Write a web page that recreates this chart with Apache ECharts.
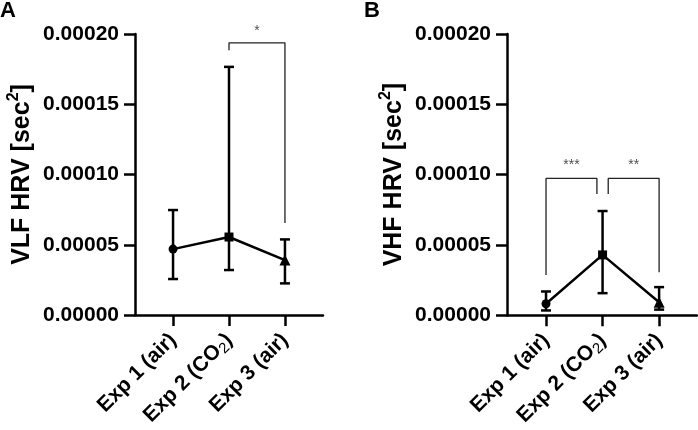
<!DOCTYPE html>
<html>
<head>
<meta charset="utf-8">
<script src="https://cdn.jsdelivr.net/npm/echarts@6/dist/echarts.min.js"></script>
<style>
  html, body { margin: 0; padding: 0; background: #fff; }
  #chart { width: 698px; height: 430px; }
</style>
</head>
<body>
<div id="chart"></div>
<script>
// ===== 数据 =====
const categories = ['Exp 1 (air)', 'Exp 2 (CO2)', 'Exp 3 (air)'];
const xPos = [1, 2, 3];
const markers = ['circle', 'rect', 'triangle'];

// A: VLF HRV (mean, lower / upper error)
const vlfMean = [4.69e-5, 5.55e-5, 3.91e-5];
const vlfLow = [2.56e-5, 3.2e-5, 2.25e-5];
const vlfHigh = [7.47e-5, 17.66e-5, 5.38e-5];

// B: VHF HRV
const vhfMean = [0.82e-5, 4.29e-5, 0.92e-5];
const vhfLow = [0.34e-5, 1.57e-5, 0.4e-5];
const vhfHigh = [1.69e-5, 7.41e-5, 2.0e-5];

// 显著性标记 [x, y]
const vlfBracket = [[2, 18.85e-5], [2, 19.37e-5], [3, 19.37e-5], [3, 6.54e-5]];
const vlfStars = [[2.5, 20.2e-5, '*']];
const vhfBracket1 = [[1, 2.87e-5], [1, 9.73e-5], [1.9, 9.73e-5], [1.9, 8.62e-5]];
const vhfBracket2 = [[2.1, 8.62e-5], [2.1, 9.73e-5], [3, 9.73e-5], [3, 3.06e-5]];
const vhfStars = [[1.45, 10.65e-5, '***'], [2.55, 10.65e-5, '**']];

// ===== 样式 =====
const FONT = 'Liberation Sans';
const INK = '#000';
const LW = 2.5;

const catLabel = (v) => {
  const i = xPos.indexOf(Math.round(v));
  if (i < 0) return '';
  return categories[i].replace('CO2', 'CO{sub|2}');
};

const xAxisOf = (gridIndex, min, max) => ({
  type: 'value',
  gridIndex,
  min,
  max,
  axisLine: { show: true, onZero: false, lineStyle: { color: INK, width: LW } },
  axisTick: { show: true, customValues: xPos, length: 11, lineStyle: { color: INK, width: LW } },
  splitLine: { show: false },
  axisLabel: {
    customValues: xPos,
    rotate: 45,
    margin: 22,
    color: INK,
    fontFamily: FONT,
    fontWeight: 'bold',
    fontSize: 21,
    formatter: catLabel,
    rich: {
      sub: { fontFamily: FONT, fontSize: 15, fontWeight: 'normal', color: INK, padding: [10, 0, 0, 0] },
    },
  },
});

const yAxisOf = (gridIndex, name) => ({
  type: 'value',
  gridIndex,
  min: 0,
  max: 0.0002,
  interval: 0.00005,
  name,
  nameLocation: 'middle',
  nameRotate: 90,
  nameGap: 97,
  nameTextStyle: {
    color: INK,
    fontFamily: FONT,
    fontWeight: 'bold',
    fontSize: 25,
    rich: {
      sup: { fontFamily: FONT, fontWeight: 'bold', fontSize: 16, color: INK, padding: [0, 0, 16, 0] },
    },
  },
  axisLine: { show: true, lineStyle: { color: INK, width: LW } },
  axisTick: { show: true, length: 11, lineStyle: { color: INK, width: LW } },
  splitLine: { show: false },
  axisLabel: {
    margin: 16,
    color: INK,
    fontFamily: FONT,
    fontWeight: 'bold',
    fontSize: 21,
    formatter: (v) => v.toFixed(5),
  },
});

const errRender = (params, api) => {
  const x = api.value(0);
  const pLo = api.coord([x, api.value(1)]);
  const pHi = api.coord([x, api.value(2)]);
  const w = 5;
  const st = { stroke: INK, lineWidth: LW };
  return {
    type: 'group',
    children: [
      { type: 'line', shape: { x1: pLo[0], y1: pLo[1], x2: pHi[0], y2: pHi[1] }, style: st },
      { type: 'line', shape: { x1: pLo[0] - w, y1: pLo[1], x2: pLo[0] + w, y2: pLo[1] }, style: st },
      { type: 'line', shape: { x1: pHi[0] - w, y1: pHi[1], x2: pHi[0] + w, y2: pHi[1] }, style: st },
    ],
  };
};

const panelSeries = (idx, mean, low, high, brackets, stars) => {
  const out = [];
  out.push({
    type: 'custom',
    xAxisIndex: idx,
    yAxisIndex: idx,
    renderItem: errRender,
    encode: { x: 0, y: [1, 2] },
    data: xPos.map((x, i) => [x, low[i], high[i]]),
    z: 3,
  });
  out.push({
    type: 'line',
    xAxisIndex: idx,
    yAxisIndex: idx,
    lineStyle: { color: INK, width: LW },
    itemStyle: { color: INK },
    data: xPos.map((x, i) => ({
      value: [x, mean[i]],
      symbol: markers[i],
      symbolSize: markers[i] === 'triangle' ? 11 : 9,
    })),
    z: 4,
  });
  brackets.forEach((b) => {
    out.push({
      type: 'line',
      xAxisIndex: idx,
      yAxisIndex: idx,
      clip: false,
      symbol: 'none',
      lineStyle: { color: '#222', width: 1.3 },
      data: b,
      z: 2,
    });
  });
  out.push({
    type: 'scatter',
    xAxisIndex: idx,
    yAxisIndex: idx,
    clip: false,
    symbolSize: 0,
    data: stars.map((s) => ({ value: [s[0], s[1]], name: s[2] })),
    label: {
      show: true,
      position: 'inside',
      formatter: (p) => p.name,
      color: '#222',
      fontFamily: FONT,
      fontSize: 14,
    },
  });
  return out;
};

const chart = echarts.init(document.getElementById('chart'), null, { renderer: 'canvas' });

chart.setOption({
  backgroundColor: '#fff',
  animation: false,
  title: [
    { text: 'A', left: 0, top: 0, padding: 0, textStyle: { fontFamily: FONT, fontWeight: 'bold', fontSize: 22, color: INK } },
    { text: 'B', left: 364, top: 0, padding: 0, textStyle: { fontFamily: FONT, fontWeight: 'bold', fontSize: 22, color: INK } },
  ],
  grid: [
    { left: 135, right: 375, top: 34, bottom: 115 },
    { left: 507, right: 1, top: 34, bottom: 114 },
  ],
  xAxis: [xAxisOf(0, 0.32, 3.68), xAxisOf(1, 0.31, 3.67)],
  yAxis: [
    yAxisOf(0, 'VLF HRV [sec{sup|2}]'),
    yAxisOf(1, 'VHF HRV [sec{sup|2}]'),
  ],
  series: [
    ...panelSeries(0, vlfMean, vlfLow, vlfHigh, [vlfBracket], vlfStars),
    ...panelSeries(1, vhfMean, vhfLow, vhfHigh, [vhfBracket1, vhfBracket2], vhfStars),
  ],
});
</script>
</body>
</html>
